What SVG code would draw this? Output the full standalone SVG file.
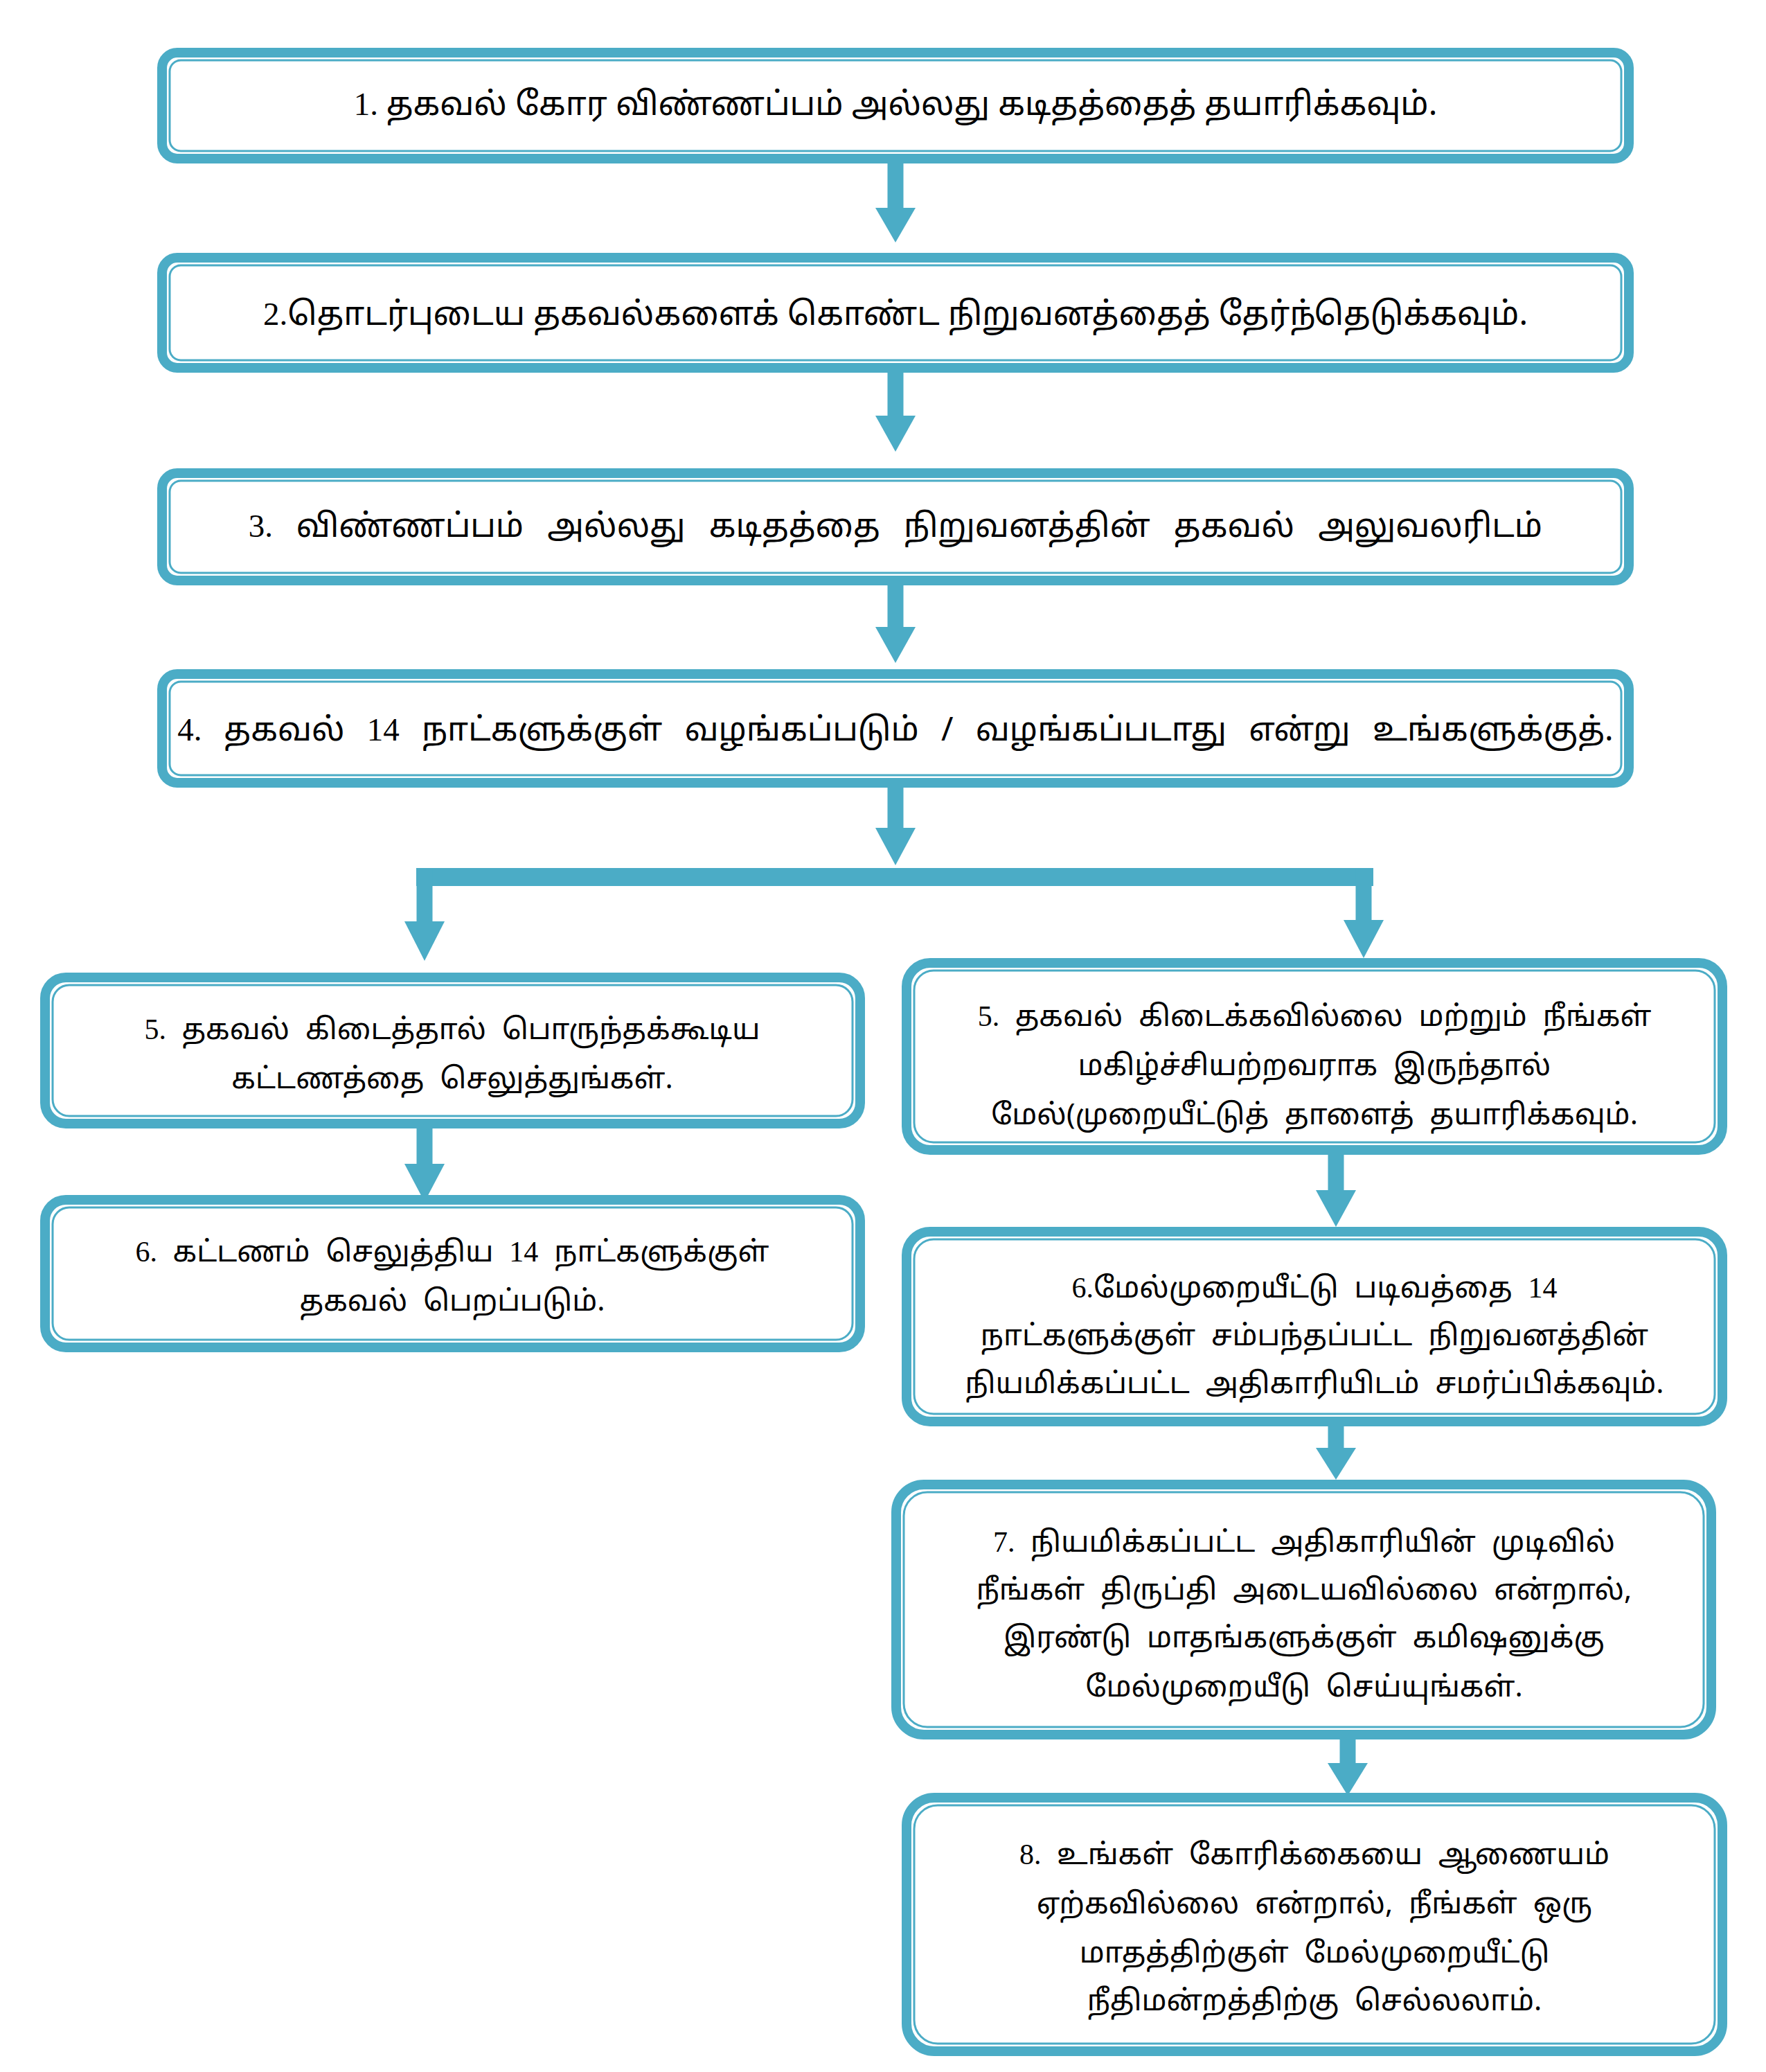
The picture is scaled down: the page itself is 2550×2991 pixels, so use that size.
<svg xmlns="http://www.w3.org/2000/svg" width="2550" height="2991" viewBox="0 0 2550 2991">
<style>
.o{fill:#fff;stroke:#4BACC6;stroke-width:14}
.i{fill:none;stroke:#4BACC6;stroke-width:3}
.c{stroke:#4BACC6;stroke-width:23;fill:none}
.h{fill:#4BACC6}
text{font-family:"Noto Sans","Noto Sans Tamil","DejaVu Sans",sans-serif;font-size:42px;fill:#000;text-anchor:middle}
.t{font-size:47px}
.n{font-family:"Liberation Serif",serif}
</style>
<rect width="2550" height="2991" fill="#fff"/>
<g id="connectors">
<path class="c" d="M1293 236V300"/><polygon class="h" points="1264,300 1322,300 1293,350"/>
<path class="c" d="M1293 538V600"/><polygon class="h" points="1264,600 1322,600 1293,652"/>
<path class="c" d="M1293 845V905"/><polygon class="h" points="1264,905 1322,905 1293,957"/>
<path class="c" d="M1293 1137V1195"/><polygon class="h" points="1264,1195 1322,1195 1293,1249"/>
<path d="M601 1266H1983" stroke="#4BACC6" stroke-width="26"/>
<path class="c" d="M613 1253V1330"/><polygon class="h" points="584,1330 642,1330 613,1387"/>
<path class="c" d="M1969 1253V1328"/><polygon class="h" points="1940,1328 1998,1328 1969,1383"/>
<path class="c" d="M613 1629V1680"/><polygon class="h" points="584,1680 642,1680 613,1735"/>
<path class="c" d="M1929 1667V1718"/><polygon class="h" points="1900,1718 1958,1718 1929,1771"/>
<path class="c" d="M1929 2059V2090"/><polygon class="h" points="1900,2090 1958,2090 1929,2136"/>
<path class="c" d="M1946 2511V2545"/><polygon class="h" points="1917,2545 1975,2545 1946,2592"/>
</g>
<g id="n1"><rect class="o" x="234" y="76" width="2118" height="153" rx="22"/><rect class="i" x="245" y="87" width="2096" height="131" rx="16"/>
<text class="t" x="1293" y="166"><tspan class="n">1. </tspan>தகவல் கோர விண்ணப்பம் அல்லது கடிதத்தைத் தயாரிக்கவும்.</text></g>
<g id="n2"><rect class="o" x="234" y="372" width="2118" height="159" rx="22"/><rect class="i" x="245" y="383" width="2096" height="137" rx="16"/>
<text class="t" x="1293" y="469"><tspan class="n">2.</tspan>தொடர்புடைய தகவல்களைக் கொண்ட நிறுவனத்தைத் தேர்ந்தெடுக்கவும்.</text></g>
<g id="n3"><rect class="o" x="234" y="683" width="2118" height="155" rx="22"/><rect class="i" x="245" y="694" width="2096" height="133" rx="16"/>
<text class="t" x="1293" y="775" word-spacing="22"><tspan class="n">3. </tspan>விண்ணப்பம் அல்லது கடிதத்தை நிறுவனத்தின் தகவல் அலுவலரிடம்</text></g>
<g id="n4"><rect class="o" x="234" y="973" width="2118" height="157" rx="22"/><rect class="i" x="245" y="984" width="2096" height="135" rx="16"/>
<text class="t" x="1293" y="1069" word-spacing="20"><tspan class="n">4. </tspan>தகவல் <tspan class="n">14</tspan> நாட்களுக்குள் வழங்கப்படும் / வழங்கப்படாது என்று உங்களுக்குத்.</text></g>
<g id="n5a"><rect class="o" x="65" y="1411" width="1177" height="211" rx="30"/><rect class="i" x="76" y="1422" width="1155" height="189" rx="24"/>
<text x="653" y="1500" word-spacing="12"><tspan class="n">5. </tspan>தகவல் கிடைத்தால் பொருந்தக்கூடிய</text>
<text x="653" y="1571" word-spacing="12">கட்டணத்தை செலுத்துங்கள்.</text></g>
<g id="n5b"><rect class="o" x="1309" y="1390" width="1178" height="270" rx="34"/><rect class="i" x="1320" y="1401" width="1156" height="248" rx="28"/>
<text x="1898" y="1481" word-spacing="12"><tspan class="n">5. </tspan>தகவல் கிடைக்கவில்லை மற்றும் நீங்கள்</text>
<text x="1898" y="1552" word-spacing="12">மகிழ்ச்சியற்றவராக இருந்தால்</text>
<text x="1898" y="1623" word-spacing="12">மேல்(முறையீட்டுத் தாளைத் தயாரிக்கவும்.</text></g>
<g id="n6a"><rect class="o" x="65" y="1732" width="1177" height="213" rx="30"/><rect class="i" x="76" y="1743" width="1155" height="191" rx="24"/>
<text x="653" y="1821" word-spacing="12"><tspan class="n">6. </tspan>கட்டணம் செலுத்திய <tspan class="n">14</tspan> நாட்களுக்குள்</text>
<text x="653" y="1892" word-spacing="12">தகவல் பெறப்படும்.</text></g>
<g id="n6b"><rect class="o" x="1309" y="1778" width="1178" height="274" rx="34"/><rect class="i" x="1320" y="1789" width="1156" height="252" rx="28"/>
<text x="1898" y="1873" word-spacing="12"><tspan class="n">6.</tspan>மேல்முறையீட்டு படிவத்தை <tspan class="n">14</tspan></text>
<text x="1898" y="1942" word-spacing="12">நாட்களுக்குள் சம்பந்தப்பட்ட நிறுவனத்தின்</text>
<text x="1898" y="2011" word-spacing="12">நியமிக்கப்பட்ட அதிகாரியிடம் சமர்ப்பிக்கவும்.</text></g>
<g id="n7"><rect class="o" x="1294" y="2143" width="1177" height="361" rx="40"/><rect class="i" x="1305" y="2154" width="1155" height="339" rx="34"/>
<text x="1883" y="2240" word-spacing="12"><tspan class="n">7. </tspan>நியமிக்கப்பட்ட அதிகாரியின் முடிவில்</text>
<text x="1883" y="2309" word-spacing="12">நீங்கள் திருப்தி அடையவில்லை என்றால்,</text>
<text x="1883" y="2378" word-spacing="12">இரண்டு மாதங்களுக்குள் கமிஷனுக்கு</text>
<text x="1883" y="2449" word-spacing="12">மேல்முறையீடு செய்யுங்கள்.</text></g>
<g id="n8"><rect class="o" x="1309" y="2595" width="1178" height="366" rx="40"/><rect class="i" x="1320" y="2606" width="1156" height="344" rx="34"/>
<text x="1898" y="2691" word-spacing="12"><tspan class="n">8. </tspan>உங்கள் கோரிக்கையை ஆணையம்</text>
<text x="1898" y="2762" word-spacing="12">ஏற்கவில்லை என்றால், நீங்கள் ஒரு</text>
<text x="1898" y="2833" word-spacing="12">மாதத்திற்குள் மேல்முறையீட்டு</text>
<text x="1898" y="2902" word-spacing="12">நீதிமன்றத்திற்கு செல்லலாம்.</text></g>
</svg>
